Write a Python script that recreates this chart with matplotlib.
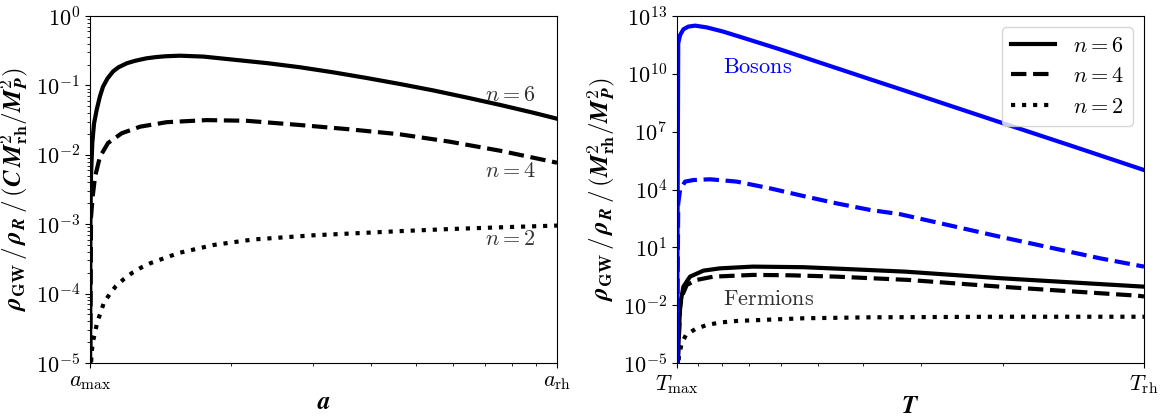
import numpy as np
import matplotlib

matplotlib.use("Agg")
import matplotlib.pyplot as plt
from matplotlib.ticker import FixedLocator, NullFormatter, NullLocator

plt.rcParams["mathtext.fontset"] = "cm"
plt.rcParams["font.family"] = "serif"
plt.rcParams["font.serif"] = ["cmr10"]
plt.rcParams["axes.formatter.use_mathtext"] = True

# ---- left panel: rho_GW / rho_R vs a (log10 of the ratio) ----
a_n6 = [1.0, 1.002, 1.005, 1.0114, 1.02, 1.0336, 1.05, 1.066, 1.09, 1.12, 1.15, 1.2, 1.25,
        1.32, 1.38, 1.45, 1.56, 1.75, 2.0, 2.4, 2.82, 3.32, 3.91, 4.61, 5.43, 6.41, 7.55,
        8.9, 10.0]
log_n6 = [-6.0, -3.0, -2.3, -1.83, -1.55, -1.35, -1.16, -1.02, -0.90, -0.80, -0.74, -0.68,
          -0.645, -0.61, -0.593, -0.58, -0.572, -0.585, -0.625, -0.68, -0.739, -0.812,
          -0.893, -0.98, -1.072, -1.175, -1.281, -1.394, -1.48]

a_n4 = [1.0, 1.005, 1.0134, 1.025, 1.05, 1.093, 1.169, 1.28, 1.46, 1.778, 2.166, 2.818,
        3.60, 4.61, 5.89, 7.55, 8.9, 10.0]
log_n4 = [-6.0, -2.9, -2.60, -2.32, -2.03, -1.83, -1.69, -1.595, -1.53, -1.50, -1.51, -1.571,
          -1.633, -1.705, -1.811, -1.941, -2.042, -2.114]

a_n2 = [1.0, 1.008, 1.0134, 1.025, 1.0367, 1.054, 1.071, 1.104, 1.137, 1.182, 1.232, 1.291,
        1.349, 1.414, 1.483, 1.559, 1.837, 2.237, 3.006, 4.61, 5.89, 7.54, 10.0]
log_n2 = [-5.3, -4.86, -4.71, -4.56, -4.41, -4.27, -4.13, -4.0, -3.89, -3.79, -3.70, -3.62,
          -3.56, -3.51, -3.46, -3.41, -3.30, -3.22, -3.16, -3.10, -3.07, -3.045, -3.02]

# ---- right panel: vs T (T_max = 10 on the left, T_rh = 1 on the right) ----
T_bos6 = [10.0, 9.94, 9.85, 9.69, 9.46, 9.15, 8.64, 7.96, 6.98, 6.02, 4.94, 3.86, 3.33,
          2.035, 1.44, 1.0]
log_bos6 = [-6.0, 11.58, 12.01, 12.31, 12.45, 12.50, 12.41, 12.19, 11.76, 11.27, 10.58, 9.72,
            9.21, 7.49, 6.29, 5.01]

T_bos4 = [10.0, 9.94, 9.85, 9.61, 9.23, 8.50, 7.45, 6.32, 5.36, 4.55, 3.86, 3.33, 2.035,
          1.242, 1.0]
log_bos4 = [-6.0, 3.28, 3.97, 4.41, 4.49, 4.53, 4.41, 4.06, 3.66, 3.28, 2.94, 2.72, 1.55,
            0.43, 0.0]

T_fer6 = [10.0, 9.85, 9.69, 9.38, 8.78, 8.09, 6.88, 5.36, 4.20, 3.25, 2.035, 1.0]
log_fer6 = [-6.0, -2.0, -1.04, -0.52, -0.21, -0.09, 0.0, -0.03, -0.14, -0.26, -0.60, -1.04]

T_fer4 = [10.0, 9.85, 9.77, 9.53, 9.07, 8.36, 6.87, 5.73, 4.55, 3.20, 2.035, 1.03, 1.0]
log_fer4 = [-6.0, -2.2, -1.56, -0.95, -0.69, -0.52, -0.43, -0.45, -0.52, -0.69, -1.04,
            -1.51, -1.55]

T_fer2 = [10.0, 9.90, 9.77, 9.57, 9.15, 8.64, 8.09, 7.45, 6.64, 5.36, 3.86, 2.035, 1.0]
log_fer2 = [-6.0, -4.6, -3.98, -3.55, -3.25, -3.03, -2.9, -2.82, -2.77, -2.68, -2.63,
            -2.60, -2.60]

n_labels = ["$n = 6$", "$n = 4$", "$n = 2$"]
styles = ["-", "--", ":"]
LW = 3.0

fig = plt.figure(figsize=(11.68, 4.16), dpi=100)
ax1 = fig.add_axes([90 / 1168, 1 - 363 / 416, 467 / 1168, 347 / 416])
ax2 = fig.add_axes([677 / 1168, 1 - 363 / 416, 467 / 1168, 347 / 416])

# left
for a, lv, ls in zip([a_n6, a_n4, a_n2], [log_n6, log_n4, log_n2], styles):
    ax1.plot(a, 10.0 ** np.array(lv), color="black", linestyle=ls, linewidth=LW)

ax1.set_xscale("log")
ax1.set_yscale("log")
ax1.set_xlim(1, 10)
ax1.set_ylim(1e-5, 1e0)
ax1.xaxis.set_major_locator(FixedLocator([1, 10]))
ax1.set_xticklabels([r"$a_{\rm max}$", r"$a_{\rm rh}$"])
ax1.xaxis.set_minor_formatter(NullFormatter())
ax1.set_xlabel(r"$\mathbfit{a}$", fontsize=18, labelpad=0)
ax1.set_ylabel(r"$\mathbfit{\rho}_{\mathbf{GW}}\,/\,\mathbfit{\rho}_{\mathbfit{R}}\,/\,"
               r"(\mathbfit{C}\,\mathbfit{M}^{\mathbf{2}}_{\mathbf{rh}}/\mathbfit{M}^{\mathbf{2}}_{\mathbfit{P}})$",
               fontsize=18)

ax1.text(7.0, 10 ** (-(95 - 16) / 69.4), n_labels[0], fontsize=16, color="0.2", va="center")
ax1.text(7.0, 10 ** (-(171 - 16) / 69.4), n_labels[1], fontsize=16, color="0.2", va="center")
ax1.text(7.0, 10 ** (-(239 - 16) / 69.4), n_labels[2], fontsize=16, color="0.2", va="center")

# right
handles = []
for T, lv, ls, lab in zip([T_fer6, T_fer4, T_fer2], [log_fer6, log_fer4, log_fer2], styles, n_labels):
    h, = ax2.plot(T, 10.0 ** np.array(lv), color="black", linestyle=ls, linewidth=LW, label=lab)
    handles.append(h)
for T, lv, ls in zip([T_bos6, T_bos4], [log_bos6, log_bos4], styles[:2]):
    ax2.plot(T, 10.0 ** np.array(lv), color="blue", linestyle=ls, linewidth=LW)

ax2.set_xscale("log")
ax2.set_yscale("log")
ax2.set_xlim(10, 1)
ax2.set_ylim(1e-5, 1e13)
ax2.xaxis.set_major_locator(FixedLocator([10, 1]))
ax2.set_xticklabels([r"$T_{\rm max}$", r"$T_{\rm rh}$"])
ax2.xaxis.set_minor_formatter(NullFormatter())
ax2.yaxis.set_major_locator(FixedLocator([1e-5, 1e-2, 1e1, 1e4, 1e7, 1e10, 1e13]))
ax2.yaxis.set_minor_locator(NullLocator())
ax2.set_xlabel(r"$\mathbfit{T}$", fontsize=18, labelpad=0)
ax2.set_ylabel(r"$\mathbfit{\rho}_{\mathbf{GW}}\,/\,\mathbfit{\rho}_{\mathbfit{R}}\,/\,"
               r"(\mathbfit{M}^{\mathbf{2}}_{\mathbf{rh}}/\mathbfit{M}^{\mathbf{2}}_{\mathbfit{P}})$",
               fontsize=18)

ax2.text(7.96, 10 ** (13 - (67 - 16) / 19.28), r"$\mathrm{Bosons}$", fontsize=16, color="blue", va="center")
ax2.text(7.96, 10 ** (13 - (299 - 16) / 19.28), r"$\mathrm{Fermions}$", fontsize=16, color="0.2", va="center")

ax2.legend(handles=handles, loc="upper right", fontsize=16, handlelength=2.0)

for ax in (ax1, ax2):
    ax.tick_params(axis="both", which="major", labelsize=16)

fig.savefig("out.png", dpi=100)
